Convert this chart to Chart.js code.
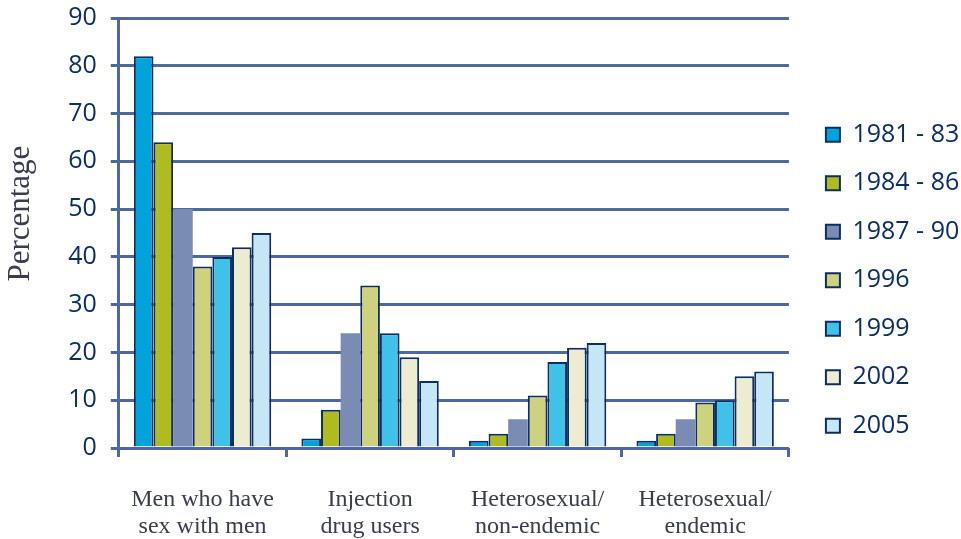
<!DOCTYPE html>
<html>
<head>
<meta charset="utf-8">
<script src="https://cdn.jsdelivr.net/npm/chart.js@4"></script>
<style>
  html, body { margin: 0; padding: 0; background: #fff; }
  #wrap { width: 961px; height: 539px; }
</style>
</head>
<body>
<div id="wrap"><canvas id="c" width="961" height="539"></canvas></div>
<script>
/* data */
const categories = [['Men who have', 'sex with men'], ['Injection', 'drug users'], ['Heterosexual/', 'non-endemic'], ['Heterosexual/', 'endemic']];
const periods    = ['1981 - 83', '1984 - 86', '1987 - 90', '1996', '1999', '2002', '2005'];
const v1981 = [82, 2, 1.5, 1.5];
const v1984 = [64, 8, 3, 3];
const v1987 = [50, 24, 6, 6];
const v1996 = [38, 34, 11, 9.5];
const v1999 = [40, 24, 18, 10];
const v2002 = [42, 19, 21, 15];
const v2005 = [45, 14, 22, 16];
const yTicks = [0, 10, 20, 30, 40, 50, 60, 70, 80, 90];

/* colours */
const navy  = '#0b2f62';
const grid  = '#50689a';
const fills = ['#00a4da', '#b0bb1f', '#7b8cb4', '#ced17e', '#40c1e8', '#edecd0', '#c6e6f6'];
const series = [v1981, v1984, v1987, v1996, v1999, v2002, v2005];

const datasets = series.map((d, i) => ({
  label: periods[i],
  data: d,
  backgroundColor: fills[i],
  borderColor: i === 2 ? fills[i] : navy,
  borderWidth: i === 2 ? 0 : 2,
  categoryPercentage: 0.82,
  barPercentage: 1.0
}));

new Chart(document.getElementById('c').getContext('2d'), {
  type: 'bar',
  data: { labels: categories, datasets },
  options: {
    responsive: false,
    animation: false,
    layout: { padding: { top: 18, right: -1.5, left: 2, bottom: 0 } },
    plugins: {
      legend: {
        position: 'right',
        align: 'center',
        title: { display: true, text: ' ', font: { size: 3 }, padding: 0 },
        labels: {
          color: navy,
          font: { family: 'Open Sans', size: 25 },
          boxWidth: 14,
          boxHeight: 14,
          padding: 23.5,
          generateLabels(chart) {
            return chart.data.datasets.map((ds, i) => ({
              text: ds.label,
              fillStyle: ds.backgroundColor,
              strokeStyle: navy,
              lineWidth: 2,
              datasetIndex: i,
              fontColor: navy
            }));
          }
        }
      },
      tooltip: { enabled: false }
    },
    scales: {
      x: {
        grid: { display: true, drawOnChartArea: false, drawTicks: true, tickLength: 9, color: grid, lineWidth: 3 },
        border: { display: false },
        ticks: { color: '#3a3d4f', font: { family: 'Liberation Serif', size: 24, lineHeight: 1.125 }, padding: 29.5 },
        afterFit(axis) { axis.height = 91; }
      },
      y: {
        min: 0, max: 90,
        afterBuildTicks(axis) { axis.ticks = yTicks.map(v => ({ value: v })); },
        afterFit(axis) { axis.paddingTop = 0; },
        grid: { color: grid, lineWidth: 3, tickLength: 8 },
        border: { display: true, color: grid, width: 3 },
        ticks: { color: navy, font: { family: 'Open Sans', size: 25 }, padding: 14 },
        title: { display: true, text: '     Percentage', color: '#3a3d4f', font: { family: 'Liberation Serif', size: 31 }, padding: { top: 0, bottom: 15 } }
      },
      /* blank spacer between plot and legend */
      gap: {
        type: 'linear', position: 'right', display: true,
        grid: { drawOnChartArea: false, drawTicks: false },
        border: { display: false },
        ticks: { display: false },
        afterFit(axis) { axis.width = 13.5; }
      }
    }
  }
});
</script>
</body>
</html>
